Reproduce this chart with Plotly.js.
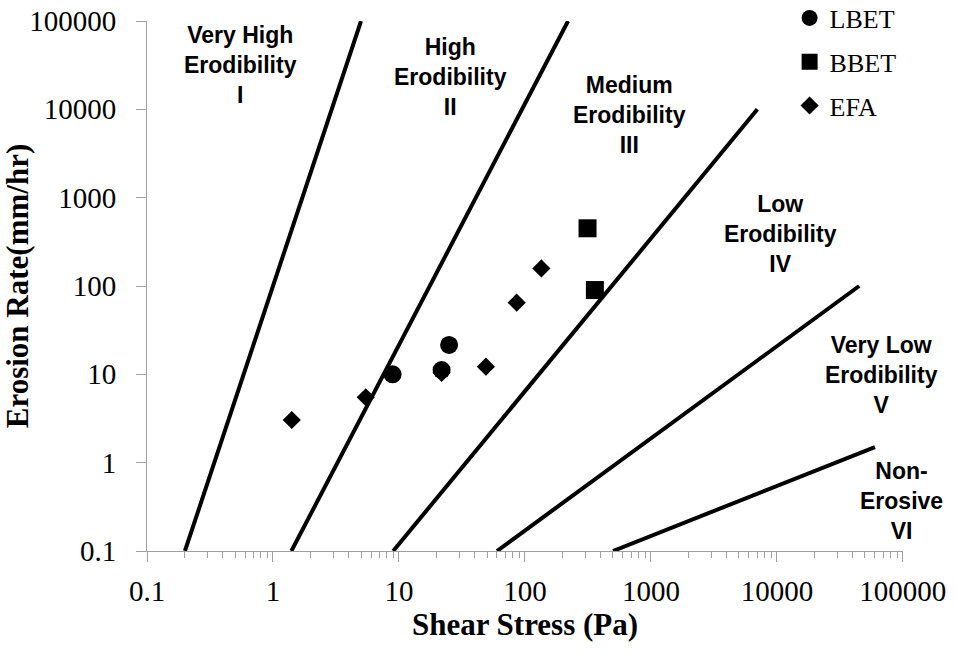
<!DOCTYPE html>
<html>
<head>
<meta charset="utf-8">
<script src="https://cdn.plot.ly/plotly-3.0.1.min.js"></script>
<style>html,body{margin:0;padding:0;background:#fff;}#chart{width:955px;height:653px;}</style>
</head>
<body>
<div id="chart"></div>
<script>
// Erodibility category boundary lines (shear stress Pa, erosion rate mm/hr)
const boundaryNames = ['I / II', 'II / III', 'III / IV', 'IV / V', 'V / VI'];
const boundaryStartX = [0.2, 1.4, 9, 60, 500];
const boundaryStartY = [0.1, 0.1, 0.1, 0.1, 0.1];
const boundaryEndX = [5, 220, 7000, 45000, 60000];
const boundaryEndY = [100000, 100000, 10000, 100, 1.5];

// Measured data
const lbetX = [8.9, 21.8, 25];
const lbetY = [10, 11.2, 21.5];
const bbetX = [314, 359];
const bbetY = [450, 90];
const efaX = [1.41, 5.45, 21.8, 49, 86, 135];
const efaY = [3.04, 5.5, 10.4, 12.2, 64.7, 158];

// Region labels
const regionLabels = [
  'Very High<br>Erodibility<br>I',
  'High<br>Erodibility<br>II',
  'Medium<br>Erodibility<br>III',
  'Low<br>Erodibility<br>IV',
  'Very Low<br>Erodibility<br>V',
  'Non-<br>Erosive<br>VI'
];
const regionLabelX = [0.124, 0.402, 0.638, 0.838, 0.972, 0.998];
const regionLabelY = [0.917, 0.895, 0.822, 0.598, 0.332, 0.094];

// Axis ticks
const tickVals = [0.1, 1, 10, 100, 1000, 10000, 100000];
const tickText = ['0.1', '1', '10', '100', '1000', '10000', '100000'];

const traces = [];
for (let i = 0; i < boundaryNames.length; i++) {
  traces.push({
    type: 'scatter', mode: 'lines', name: boundaryNames[i],
    x: [boundaryStartX[i], boundaryEndX[i]],
    y: [boundaryStartY[i], boundaryEndY[i]],
    line: {color: '#000', width: 4},
    showlegend: false, hoverinfo: 'skip'
  });
}
traces.push({type: 'scatter', mode: 'markers', name: 'LBET', x: lbetX, y: lbetY,
  marker: {symbol: 'circle', size: 18, color: '#000'}, legendgroup: 'a'});
traces.push({type: 'scatter', mode: 'markers', name: 'BBET', x: bbetX, y: bbetY,
  marker: {symbol: 'square', size: 18, color: '#000'}, legendgroup: 'b'});
traces.push({type: 'scatter', mode: 'markers', name: 'EFA', x: efaX, y: efaY,
  marker: {symbol: 'diamond', size: 14, color: '#000'}, legendgroup: 'c'});

const annotations = regionLabels.map((t, i) => ({
  text: t, xref: 'paper', yref: 'paper', x: regionLabelX[i], y: regionLabelY[i],
  xanchor: 'center', yanchor: 'middle', showarrow: false, align: 'center',
  font: {family: 'Liberation Sans, Arial, sans-serif', size: 23, color: '#000', weight: 'bold'}
}));

const axisCommon = {
  type: 'log', showgrid: false, zeroline: false,
  showline: true, linecolor: '#a0a0a0', linewidth: 1,
  ticks: 'outside', ticklen: 10, tickcolor: '#a0a0a0', tickwidth: 1,
  tickvals: tickVals, ticktext: tickText,
  tickfont: {family: 'Liberation Serif, Times New Roman, serif', size: 29, color: '#000'}
};

const layout = {
  width: 955, height: 653,
  margin: {l: 147, r: 52, t: 21, b: 102, autoexpand: false},
  paper_bgcolor: '#fff', plot_bgcolor: '#fff',
  showlegend: true,
  legend: {
    x: 0.85, y: 1.05, xanchor: 'left', yanchor: 'top',
    font: {family: 'Liberation Serif, Times New Roman, serif', size: 26, color: '#000'},
    tracegroupgap: 7, traceorder: 'grouped', bgcolor: 'rgba(0,0,0,0)'
  },
  xaxis: Object.assign({}, axisCommon, {
    range: [-1, 5.001],
    ticklabelstandoff: 4,
    minor: {ticks: 'outside', ticklen: 6, tickcolor: '#a0a0a0', dtick: 'D1', showgrid: false},
    title: {text: 'Shear Stress (Pa)', standoff: 0,
      font: {family: 'Liberation Serif, Times New Roman, serif', size: 31, color: '#000', weight: 'bold'}}
  }),
  yaxis: Object.assign({}, axisCommon, {
    range: [-1, 5],
    ticklabelstandoff: 14,
    title: {text: 'Erosion Rate(mm/hr)', standoff: 24,
      font: {family: 'Liberation Serif, Times New Roman, serif', size: 31, color: '#000', weight: 'bold'}}
  }),
  annotations: annotations
};

Plotly.newPlot('chart', traces, layout, {displayModeBar: false, staticPlot: true});
</script>
</body>
</html>
